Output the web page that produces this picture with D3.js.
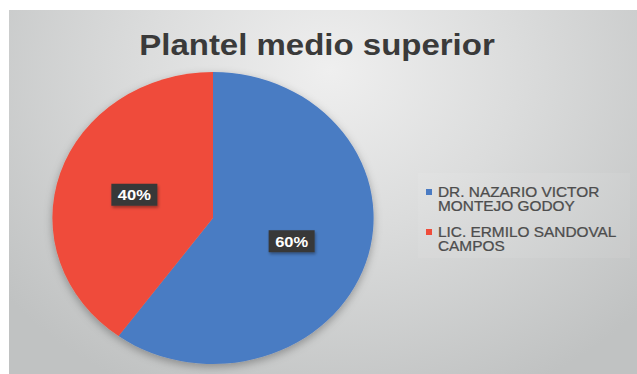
<!DOCTYPE html>
<html>
<head>
<meta charset="utf-8">
<script src="https://cdn.jsdelivr.net/npm/d3@7"></script>
<style>
  html, body { margin: 0; padding: 0; background: #ffffff; }
  svg { display: block; }
</style>
</head>
<body>
<svg id="chart" width="637" height="374"></svg>
<script>
// Chart content
const title = "Plantel medio superior";
const categories = ["DR. NAZARIO VICTOR MONTEJO GODOY", "LIC. ERMILO SANDOVAL CAMPOS"];
const legendLines = [["DR. NAZARIO VICTOR", "MONTEJO GODOY"], ["LIC. ERMILO SANDOVAL", "CAMPOS"]];
const values = [60, 40];
const colors = ["#4a7bc3", "#ef4c3a"];

const W = 637, H = 374;
const sx = 1.1;               // horizontal stretch of the whole drawing
const cx = 213, cy = 218, R = 146;

const svg = d3.select("#chart");
const defs = svg.append("defs");

// soft grey backdrop, lighter in the upper middle
const bg = defs.append("radialGradient").attr("id", "bg")
  .attr("gradientUnits", "userSpaceOnUse")
  .attr("cx", 330).attr("cy", 70).attr("r", 420)
  .attr("gradientTransform", "translate(330,70) scale(1,0.85) translate(-330,-70)");
bg.append("stop").attr("offset", "0").attr("stop-color", "#efefef");
bg.append("stop").attr("offset", "0.45").attr("stop-color", "#dbdcdc");
bg.append("stop").attr("offset", "1").attr("stop-color", "#c0c2c2");

const sh = defs.append("filter").attr("id", "shadow")
  .attr("x", "-20%").attr("y", "-20%").attr("width", "140%").attr("height", "140%");
sh.append("feDropShadow").attr("dx", 0).attr("dy", 3).attr("stdDeviation", 4)
  .attr("flood-color", "#000").attr("flood-opacity", 0.3);

const lsh = defs.append("filter").attr("id", "lblShadow")
  .attr("x", "-30%").attr("y", "-30%").attr("width", "160%").attr("height", "160%");
lsh.append("feDropShadow").attr("dx", 1).attr("dy", 2).attr("stdDeviation", 1.5)
  .attr("flood-color", "#000").attr("flood-opacity", 0.35);

svg.append("rect").attr("x", 9).attr("y", 10).attr("width", W - 9).attr("height", H - 10)
  .attr("fill", "url(#bg)");

// title
svg.append("text")
  .attr("transform", `translate(317,55) scale(${sx},1)`)
  .attr("text-anchor", "middle")
  .attr("font-family", "Liberation Sans, Arial, sans-serif")
  .attr("font-weight", "bold")
  .attr("font-size", 30)
  .attr("fill", "#3a3a3a")
  .text(title);

// pie
const pie = d3.pie().sort(null).value(d => d);
const arcs = pie(values);
const arc = d3.arc().innerRadius(0).outerRadius(R);
const labelArc = d3.arc().innerRadius(0).outerRadius(R * 1.03);

const pg = svg.append("g")
  .attr("transform", `translate(${cx},${cy}) scale(${sx},1)`)
  .attr("filter", "url(#shadow)");
pg.selectAll("path").data(arcs).join("path")
  .attr("d", arc)
  .attr("fill", (d, i) => colors[i]);

// data labels
const fmt = d3.format(".0%");
const total = d3.sum(values);
const lg = svg.append("g").attr("transform", `translate(${cx},${cy})`);
arcs.forEach((d, i) => {
  const [x, y] = labelArc.centroid(d);
  const g = lg.append("g").attr("transform", `translate(${x * sx},${y})`);
  g.append("rect")
    .attr("x", -23).attr("y", -11).attr("width", 46).attr("height", 22)
    .attr("fill", "#383838")
    .attr("filter", "url(#lblShadow)");
  g.append("text")
    .attr("transform", `scale(${sx},1)`)
    .attr("y", 5.5)
    .attr("text-anchor", "middle")
    .attr("font-family", "Liberation Sans, Arial, sans-serif")
    .attr("font-weight", "bold")
    .attr("font-size", 15)
    .attr("fill", "#ffffff")
    .text(fmt(d.data / total));
});

// legend
const leg = svg.append("g");
leg.append("rect")
  .attr("x", 418).attr("y", 173).attr("width", 212).attr("height", 85)
  .attr("fill", "#ffffff").attr("opacity", 0.07);
const legY = [197, 237];
categories.forEach((c, i) => {
  leg.append("rect")
    .attr("x", 426).attr("y", legY[i] - 8).attr("width", 6).attr("height", 6)
    .attr("fill", colors[i]);
  legendLines[i].forEach((line, j) => {
    leg.append("text")
      .attr("transform", `translate(438,${legY[i] + j * 14}) scale(${sx},1)`)
      .attr("font-family", "Liberation Sans, Arial, sans-serif")
      .attr("font-size", 14)
      .attr("fill", "#4d4d4d")
      .attr("stroke", "#4d4d4d").attr("stroke-width", 0.25)
      .text(line);
  });
});
</script>
</body>
</html>
